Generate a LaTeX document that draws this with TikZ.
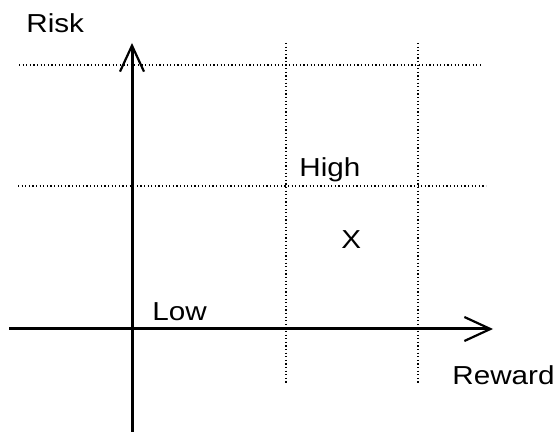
\documentclass[tikz,border=0pt]{standalone}
\usepackage{fontspec}
\usepackage{tikz}
\usetikzlibrary{arrows.meta}
\newfontfamily\plotfont[FakeStretch=1.14]{Liberation Sans}

\begin{document}
\begin{tikzpicture}[x=0.5pt,y=-0.5pt,
   axis/.style={line width=1.5pt,-{Straight Barb[length=13pt,width=12pt,line width=1.1pt]}},
   grid/.style={line width=0.8pt,dash pattern=on 0.6pt off 1.2pt},
   lbl/.style={anchor=base west,inner sep=0pt,font=\plotfont\fontsize{13}{15}\selectfont}]
  \useasboundingbox (0,0) rectangle (557,432);
  % grid lines
  \coordinate (g1l) at (19,65);  \coordinate (g1r) at (482,65);
  \coordinate (g2l) at (18,186); \coordinate (g2r) at (486,186);
  \coordinate (v1t) at (286,43); \coordinate (v1b) at (286,383);
  \coordinate (v2t) at (418,43); \coordinate (v2b) at (418,383);
  \draw[grid] (g1l) -- (g1r);
  \draw[grid] (g2l) -- (g2r);
  \draw[grid] (v1t) -- (v1b);
  \draw[grid] (v2t) -- (v2b);
  % axes
  \coordinate (ybot) at (132,432); \coordinate (ytop) at (132,43);
  \coordinate (xlft) at (9,329);   \coordinate (xrgt) at (493,329);
  \draw[axis] (ybot) -- (ytop);
  \draw[axis] (xlft) -- (xrgt);
  % labels
  \node[lbl] (risk) at (26,33) {Risk};
  \node[lbl] (high) at (299,177) {High};
  \node[lbl] (x) at (341,249) {X};
  \node[lbl] (low) at (152,321) {Low};
  \node[lbl] (reward) at (452,385) {Reward};
\end{tikzpicture}
\end{document}
